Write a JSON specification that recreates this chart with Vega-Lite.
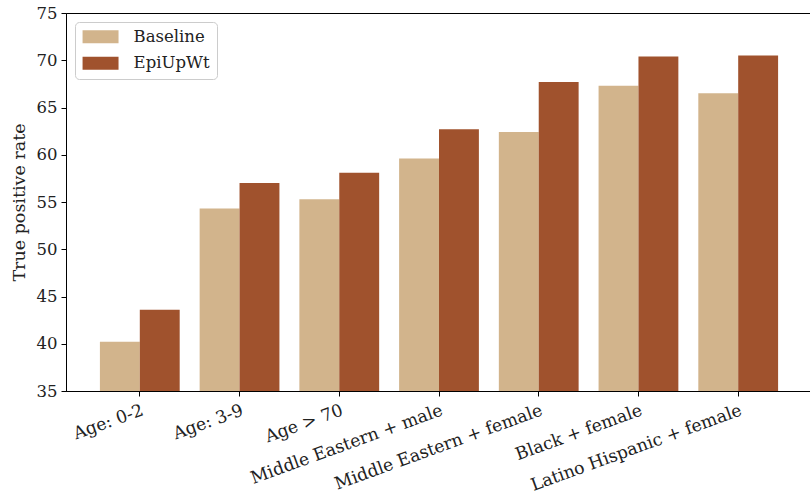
{
  "$schema": "https://vega.github.io/schema/vega-lite/v6.json",
  "autosize": "none",
  "padding": {"left": 66, "top": 13, "right": 0, "bottom": 104},
  "width": 746,
  "height": 378,
  "background": "white",
  "config": {
    "font": "DejaVu Serif",
    "view": {"stroke": "black", "strokeWidth": 1},
    "axis": {"domainColor": "black", "tickColor": "black", "labelColor": "#222", "titleColor": "#222", "labelFont": "DejaVu Serif", "titleFont": "DejaVu Serif", "grid": false, "labelOverlap": false, "labelLimit": 0, "labelFlush": false}
  },
  "data": {
    "values": [
      {"group": "Age: 0-2", "method": "Baseline", "rate": 40.2},
      {"group": "Age: 0-2", "method": "EpiUpWt", "rate": 43.6},
      {"group": "Age: 3-9", "method": "Baseline", "rate": 54.3},
      {"group": "Age: 3-9", "method": "EpiUpWt", "rate": 57.0},
      {"group": "Age > 70", "method": "Baseline", "rate": 55.3},
      {"group": "Age > 70", "method": "EpiUpWt", "rate": 58.1},
      {"group": "Middle Eastern + male", "method": "Baseline", "rate": 59.6},
      {"group": "Middle Eastern + male", "method": "EpiUpWt", "rate": 62.7},
      {"group": "Middle Eastern + female", "method": "Baseline", "rate": 62.4},
      {"group": "Middle Eastern + female", "method": "EpiUpWt", "rate": 67.7},
      {"group": "Black + female", "method": "Baseline", "rate": 67.3},
      {"group": "Black + female", "method": "EpiUpWt", "rate": 70.4},
      {"group": "Latino Hispanic + female", "method": "Baseline", "rate": 66.5},
      {"group": "Latino Hispanic + female", "method": "EpiUpWt", "rate": 70.5}
    ]
  },
  "mark": {"type": "bar", "clip": true},
  "encoding": {
    "x": {
      "field": "group", "type": "nominal", "sort": null,
      "scale": {"paddingInner": 0.2, "paddingOuter": 0.34},
      "axis": {"title": null, "labelAngle": -20, "labelAlign": "right", "labelBaseline": "top", "labelFontSize": 17.3, "tickSize": 5, "labelPadding": 5, "domainWidth": 1}
    },
    "xOffset": {"field": "method", "type": "nominal", "sort": ["Baseline", "EpiUpWt"]},
    "y": {
      "field": "rate", "type": "quantitative",
      "scale": {"domain": [35, 75], "nice": false, "zero": false},
      "axis": {"title": "True positive rate", "titleFontSize": 17.5, "titleFontWeight": "normal", "labelFontSize": 16.5, "values": [35, 40, 45, 50, 55, 60, 65, 70, 75], "tickSize": 5, "labelPadding": 4, "titlePadding": 8}
    },
    "color": {
      "field": "method", "type": "nominal",
      "scale": {"domain": ["Baseline", "EpiUpWt"], "range": ["#D2B48C", "#A0522D"]},
      "legend": {
        "title": null, "orient": "none", "legendX": 9, "legendY": 9,
        "symbolType": "M-2.5,-0.9H2.5V0.9H-2.5Z", "symbolSize": 207, "symbolStrokeWidth": 0, "symbolOffset": 10.8,
        "labelFontSize": 16.5, "labelFont": "DejaVu Serif", "labelColor": "#222", "labelOffset": 24.8,
        "rowPadding": 9.5, "padding": 6.5, "cornerRadius": 4, "strokeColor": "#cccccc", "fillColor": "white"
      }
    }
  }
}
